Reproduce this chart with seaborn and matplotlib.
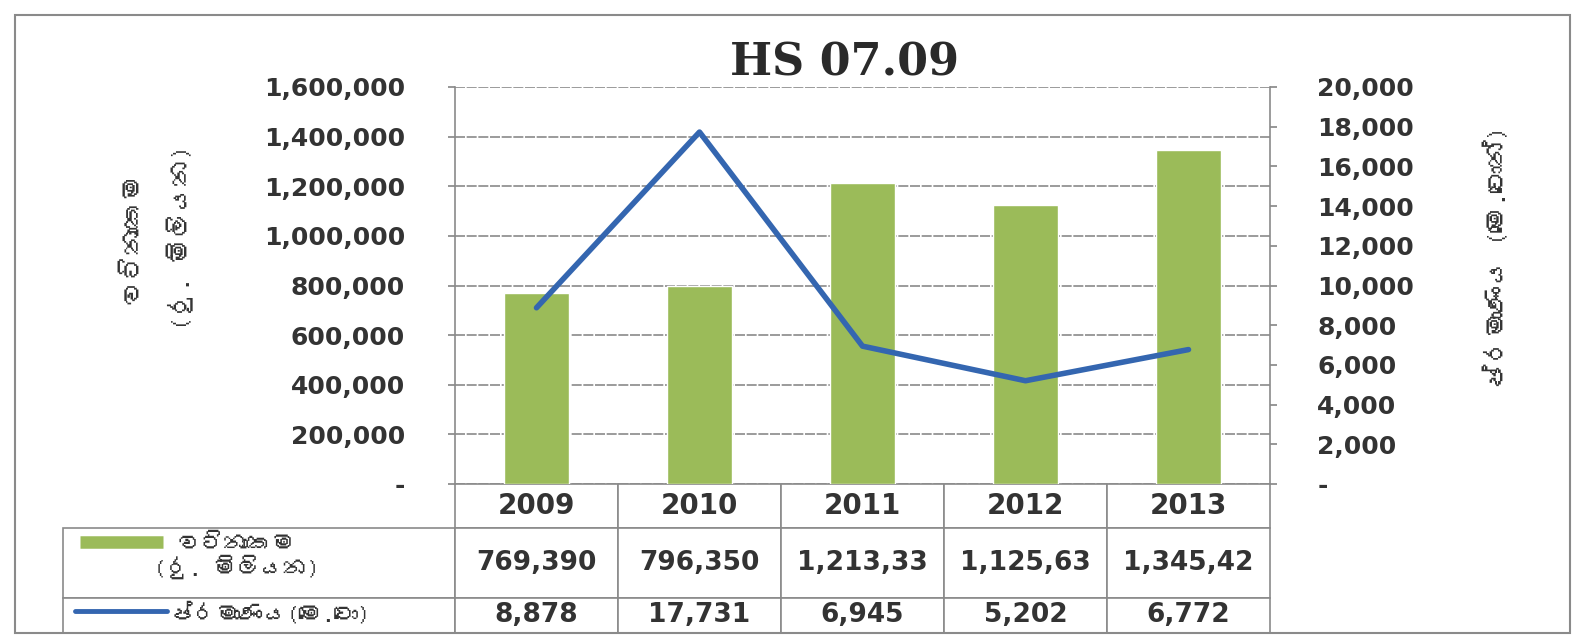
import numpy as np
import pandas as pd
import matplotlib
matplotlib.use("Agg")
import matplotlib.pyplot as plt
import matplotlib.font_manager as fm
from matplotlib.ft2font import FT2Font
from matplotlib.lines import Line2D
from matplotlib.patches import Rectangle
from matplotlib.ticker import FuncFormatter, MultipleLocator
import seaborn as sns

# data
years = ["2009", "2010", "2011", "2012", "2013"]
value_rs_mn = [769390, 796350, 1213330, 1125630, 1345420]
quantity_mt = [8878, 17731, 6945, 5202, 6772]

title = "HS 07.09"
value_label = "වටිනාකම\n(රු. මිලියන)"
value_legend = "වටිනාකම\n(රු. මිලියන)"
qty_label = "ප්රමාණය (මෙ.ටොන්)"
qty_legend = "ප්රමාණය(මෙ.ටො)"

bar_color = "#9bbb59"
line_color = "#3466b0"
grid_color = "#8a8a8a"
text_color = "#333333"

sns.set_theme(style="white")

# find a font with Sinhala glyphs, if any is installed
sinhala = None
for f in fm.fontManager.ttflist:
    try:
        if 0x0DC0 in FT2Font(f.fname).get_charmap():
            sinhala = f.name
            break
    except Exception:
        pass
si_family = [sinhala, "DejaVu Sans"] if sinhala else ["DejaVu Sans"]
plt.rcParams["font.family"] = ["DejaVu Sans"]

W, H = 1575, 636
fig = plt.figure(figsize=(W / 100, H / 100), dpi=100)
fig.patch.set_facecolor("white")


def fx(px):
    return px / W


def fy(py):
    return 1 - py / H


ax = fig.add_axes([fx(455), fy(484), fx(1270) - fx(455), fy(87) - fy(484)])
df = pd.DataFrame({"year": years, "value": value_rs_mn, "qty": quantity_mt})

sns.barplot(data=df, x="year", y="value", ax=ax, color=bar_color,
            width=0.4, saturation=1, zorder=3)
ax.set_ylim(0, 1600000)
ax.yaxis.set_major_locator(MultipleLocator(200000))
fmt = FuncFormatter(lambda v, p: "-" if v == 0 else f"{v:,.0f}")
ax.yaxis.set_major_formatter(fmt)
ax.set_xlabel("")
ax.set_ylabel("")
ax.set_xticklabels([])
ax.tick_params(axis="x", length=0)
ax.tick_params(axis="y", left=True, length=5, color=grid_color, pad=31,
               labelsize=18, labelcolor=text_color)
for lab in ax.get_yticklabels():
    lab.set_fontweight("bold")
ax.grid(axis="y", color=grid_color, linewidth=1.2, linestyle=(0, (6, 1)))
ax.set_axisbelow(True)
for s in ["top", "bottom"]:
    ax.spines[s].set_visible(False)
for s in ["left", "right"]:
    ax.spines[s].set_color(grid_color)
    ax.spines[s].set_linewidth(1.2)

ax2 = ax.twinx()
sns.lineplot(data=df, x="year", y="qty", ax=ax2, color=line_color,
             linewidth=4, sort=False, zorder=4)
ax2.set_ylim(0, 20000)
ax2.yaxis.set_major_locator(MultipleLocator(2000))
ax2.yaxis.set_major_formatter(fmt)
ax2.set_ylabel("")
ax2.set_xlabel("")
ax2.tick_params(axis="y", right=True, length=5, color=grid_color, pad=29,
                labelsize=18, labelcolor=text_color)
for lab in ax2.get_yticklabels():
    lab.set_fontweight("bold")
for s in ["top", "bottom", "left", "right"]:
    ax2.spines[s].set_visible(False)
ax.set_xlim(-0.5, len(years) - 0.5)

# data table under the plot: first column holds the legend keys
cell_text = [[""] + years,
             [""] + [f"{v:,}"[:8] for v in value_rs_mn],
             [""] + [f"{v:,}" for v in quantity_mt]]
left_px, top_px, bot_px = 63, 484, 633
ax_w = 1270 - 455
ax_h = 484 - 87
tab = ax.table(cellText=cell_text, cellLoc="center",
               colWidths=[455 - left_px] + [163] * 5,
               bbox=[(left_px - 455) / ax_w, -(bot_px - top_px) / ax_h,
                     (1270 - left_px) / ax_w, (bot_px - top_px) / ax_h])
tab.auto_set_font_size(False)
row_h = [44, 70, 35]
for (r, c), cell in tab.get_celld().items():
    cell.set_edgecolor(grid_color)
    cell.set_linewidth(1.2)
    cell.set_height(row_h[r])
    cell.get_text().set_fontsize(20 if r == 0 else 19)
    cell.get_text().set_fontweight("bold")
    cell.get_text().set_color(text_color)
    if r == 0 and c == 0:
        cell.visible_edges = ""

# legend keys and labels in the first column
fig.add_artist(Line2D([fx(80), fx(163)], [fy(542), fy(542)], color=bar_color,
                      linewidth=9, solid_capstyle="butt"))
fig.text(fx(237), fy(557), value_legend, family=si_family, fontsize=17,
         fontweight="bold", color=text_color, ha="center", va="center",
         linespacing=1.05)
fig.add_artist(Line2D([fx(75), fx(167)], [fy(611), fy(611)], color=line_color,
                      linewidth=3.5))
fig.text(fx(170), fy(613), qty_legend, family=si_family, fontsize=17,
         fontweight="bold", color=text_color, ha="left", va="center")

# axis titles
fig.text(fx(158), fy(238), value_label, family=si_family, fontsize=19,
         fontweight="bold", color=text_color, rotation=90, ha="center",
         va="center", linespacing=2.0)
fig.text(fx(1497), fy(258), qty_label, family=si_family, fontsize=19,
         fontweight="bold", color=text_color, rotation=90, ha="center",
         va="center")

fig.text(fx(845), fy(63), title, family=["DejaVu Serif"], fontsize=32,
         fontweight="bold", color="#2a2a2a", ha="center", va="center")

# outer chart border
fig.add_artist(Rectangle((fx(15), fy(633)), fx(1570) - fx(15), fy(15) - fy(633),
                         transform=fig.transFigure, fill=False,
                         edgecolor=grid_color, linewidth=1.5))

fig.savefig("out.png", dpi=100)
